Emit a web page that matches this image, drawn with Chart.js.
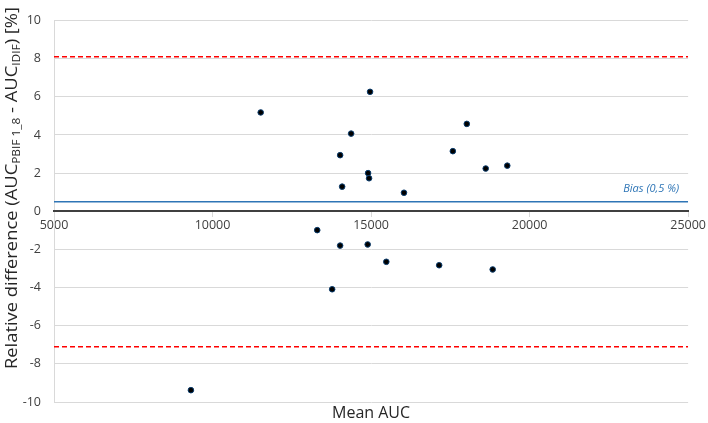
<!DOCTYPE html>
<html>
<head>
<meta charset="utf-8">
<script src="https://cdn.jsdelivr.net/npm/chart.js@4"></script>
<style>
  body { margin: 0; background: #fff; }
  #wrap { width: 708px; height: 423px; }
</style>
</head>
<body>
<div id="wrap"><canvas id="my-chart"></canvas></div>
<script>
// Data
const meanAuc = [9318, 11519, 14968, 14371, 14025, 14906, 14937, 14088, 16038, 13302,
  14025, 14893, 15481, 17148, 18019, 17579, 18616, 19296, 18836, 13773];
const relDiff = [-9.38, 5.18, 6.26, 4.07, 2.94, 2.0, 1.73, 1.29, 0.97, -0.99,
  -1.80, -1.74, -2.65, -2.83, 4.58, 3.15, 2.24, 2.39, -3.05, -4.09];
const bias = 0.5;
const upperLimit = 8.1;
const lowerLimit = -7.1;
const xRange = [5000, 25000];
const yRange = [-10, 10];
const biasLabel = "Bias (0,5 %)";
const xTitle = "Mean AUC";

const points = meanAuc.map((x, i) => ({ x: x, y: relDiff[i] }));
const hline = (v) => xRange.map((x) => ({ x: x, y: v }));

// Titles and bias label drawn on the canvas (y title has subscripts)
const textPlugin = {
  id: "texts",
  afterDraw(chart) {
    const ctx = chart.ctx;
    const xs = chart.scales.x;
    const ys = chart.scales.y;
    ctx.save();

    // bias label
    ctx.font = "italic 11px 'Open Sans'";
    ctx.fillStyle = "#2e75b6";
    ctx.textAlign = "right";
    ctx.textBaseline = "middle";
    ctx.fillText(biasLabel, xs.right - 9, ys.getPixelForValue(bias) - 13);

    // x title
    ctx.font = "16px 'Open Sans'";
    ctx.fillStyle = "#262626";
    ctx.textAlign = "center";
    ctx.textBaseline = "middle";
    ctx.fillText(xTitle, (xs.left + xs.right) / 2, 413);

    // y title with subscripts
    const parts = [
      ["Relative difference (AUC", false],
      ["PBIF 1_8", true],
      [" - AUC", false],
      ["IDIF", true],
      [") [%]", false],
    ];
    const big = "17px 'Open Sans'";
    const small = "11px 'Open Sans'";
    let total = 0;
    parts.forEach((p) => {
      ctx.font = p[1] ? small : big;
      total += ctx.measureText(p[0]).width;
    });
    const target = 362;
    ctx.translate(12, 188);
    ctx.rotate(-Math.PI / 2);
    ctx.scale(target / total, 1);
    ctx.textAlign = "left";
    ctx.textBaseline = "middle";
    let x = -total / 2;
    parts.forEach((p) => {
      ctx.font = p[1] ? small : big;
      ctx.fillText(p[0], x, p[1] ? 5 : 0);
      x += ctx.measureText(p[0]).width;
    });
    ctx.restore();
  },
};

const ctx = document.getElementById("my-chart").getContext("2d");

const data = {
  datasets: [
    {
      type: "scatter",
      label: "Points",
      data: points,
      pointRadius: 2.8,
      pointBackgroundColor: "#000000",
      pointBorderColor: "#0b3d6e",
      pointBorderWidth: 1,
      order: 0,
    },
    {
      type: "line",
      label: "Upper limit",
      data: hline(upperLimit),
      borderColor: "#ff0000",
      borderWidth: 1.5,
      borderDash: [5, 3],
      pointRadius: 0,
      order: 1,
    },
    {
      type: "line",
      label: "Lower limit",
      data: hline(lowerLimit),
      borderColor: "#ff0000",
      borderWidth: 1.5,
      borderDash: [5, 3],
      pointRadius: 0,
      order: 1,
    },
    {
      type: "line",
      label: "Bias",
      data: hline(bias),
      borderColor: "#2e75b6",
      borderWidth: 1.5,
      pointRadius: 0,
      order: 1,
    },
  ],
};

const config = {
  type: "scatter",
  data: data,
  plugins: [textPlugin],
  options: {
    responsive: true,
    maintainAspectRatio: false,
    animation: false,
    layout: {
      autoPadding: false,
      padding: { left: 0, right: 18, top: 5, bottom: 21 },
    },
    plugins: {
      legend: { display: false },
      tooltip: { enabled: false },
    },
    scales: {
      x: {
        type: "linear",
        position: { y: 0 },
        min: xRange[0],
        max: xRange[1],
        ticks: {
          stepSize: 5000,
          color: "#404040",
          font: { family: "'Open Sans'", size: 12.5 },
          padding: 2,
          maxRotation: 0,
          callback: (v) => String(v),
        },
        grid: {
          drawOnChartArea: false,
          drawTicks: true,
          tickLength: 5,
          color: "#d9d9d9",
        },
        border: { color: "#404040", width: 2, z: 1 },
      },
      y: {
        min: yRange[0],
        max: yRange[1],
        ticks: {
          stepSize: 2,
          color: "#404040",
          font: { family: "'Open Sans'", size: 12.5 },
          padding: 13,
          callback: (v) => String(v),
        },
        grid: { color: "#d9d9d9", drawTicks: false },
        border: { color: "#d9d9d9" },
        afterFit: (scale) => {
          scale.width = 54;
        },
      },
    },
  },
};

new Chart(ctx, config);
</script>
</body>
</html>
